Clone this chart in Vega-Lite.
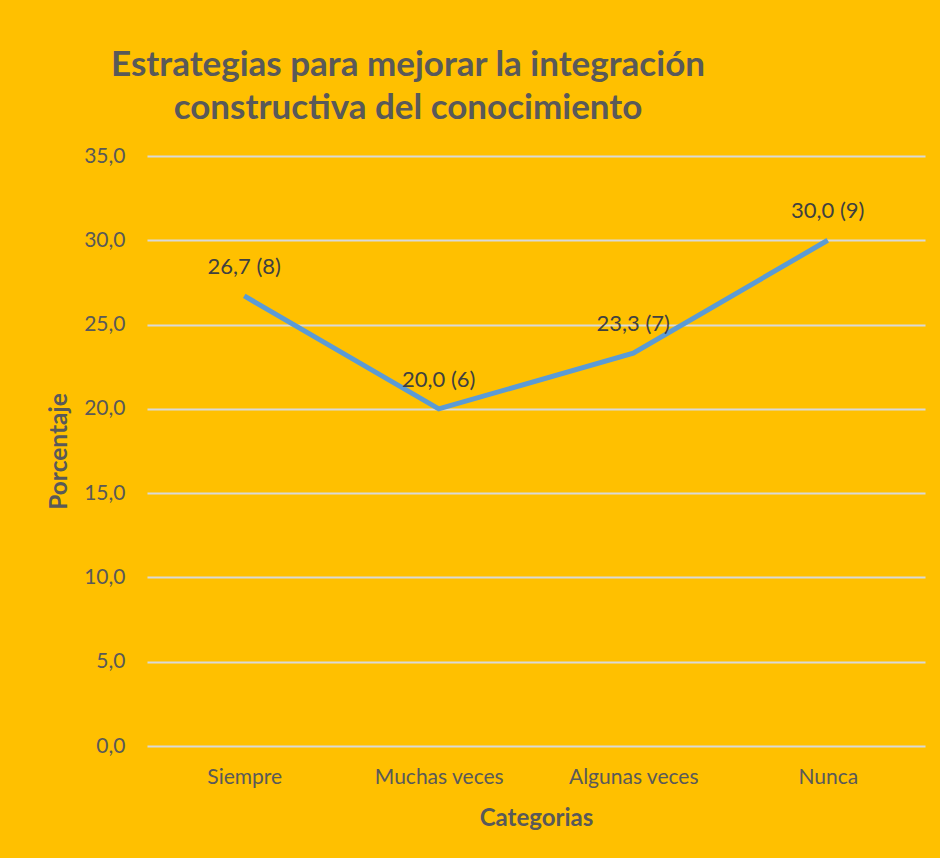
{
  "$schema": "https://vega.github.io/schema/vega-lite/v6.json",
  "width": 778,
  "height": 590,
  "autosize": {"type": "none"},
  "padding": {"left": 147, "top": 156, "right": 15, "bottom": 112},
  "background": "#FFC000",
  "title": {
    "text": ["Estrategias para mejorar la integración", "constructiva del conocimiento"],
    "anchor": "middle",
    "dx": -128,
    "offset": -9,
    "font": "Lato",
    "fontSize": 35,
    "fontWeight": "bold",
    "color": "#595959",
    "lineHeight": 43,
    "baseline": "alphabetic"
  },
  "data": {
    "values": [
      {"categoria": "Siempre", "porcentaje": 26.7, "etiqueta": "26,7 (8)"},
      {"categoria": "Muchas veces", "porcentaje": 20.0, "etiqueta": "20,0 (6)"},
      {"categoria": "Algunas veces", "porcentaje": 23.3, "etiqueta": "23,3 (7)"},
      {"categoria": "Nunca", "porcentaje": 30.0, "etiqueta": "30,0 (9)"}
    ]
  },
  "encoding": {
    "x": {
      "field": "categoria",
      "type": "nominal",
      "sort": null,
      "title": "Categorias",
      "axis": {
        "labelAngle": 0,
        "labelFont": "Lato",
        "labelFontSize": 21,
        "labelColor": "#595959",
        "labelPadding": 20,
        "titleFont": "Lato",
        "titleFontSize": 24,
        "titleFontWeight": "bold",
        "titleColor": "#595959",
        "titlePadding": 19,
        "domain": false,
        "ticks": false,
        "grid": false
      }
    },
    "y": {
      "field": "porcentaje",
      "type": "quantitative",
      "title": "Porcentaje",
      "scale": {"domain": [0, 35]},
      "axis": {
        "values": [0, 5, 10, 15, 20, 25, 30, 35],
        "labelExpr": "replace(format(datum.value, '.1f'), '.', ',')",
        "labelFont": "Lato",
        "labelFontSize": 21,
        "labelColor": "#595959",
        "labelPadding": 22,
        "titleFont": "Lato",
        "titleFontSize": 24.5,
        "titleFontWeight": "bold",
        "titleColor": "#595959",
        "titlePadding": 12,
        "domain": false,
        "ticks": false,
        "grid": true,
        "gridColor": "#D9D9D9",
        "gridWidth": 2
      }
    }
  },
  "layer": [
    {
      "mark": {"type": "line", "color": "#5B9BD5", "strokeWidth": 5}
    },
    {
      "mark": {"type": "text", "font": "Lato", "fontSize": 22, "color": "#404040", "dy": -29, "baseline": "middle"},
      "encoding": {"text": {"field": "etiqueta"}}
    }
  ],
  "config": {"view": {"stroke": null}}
}
